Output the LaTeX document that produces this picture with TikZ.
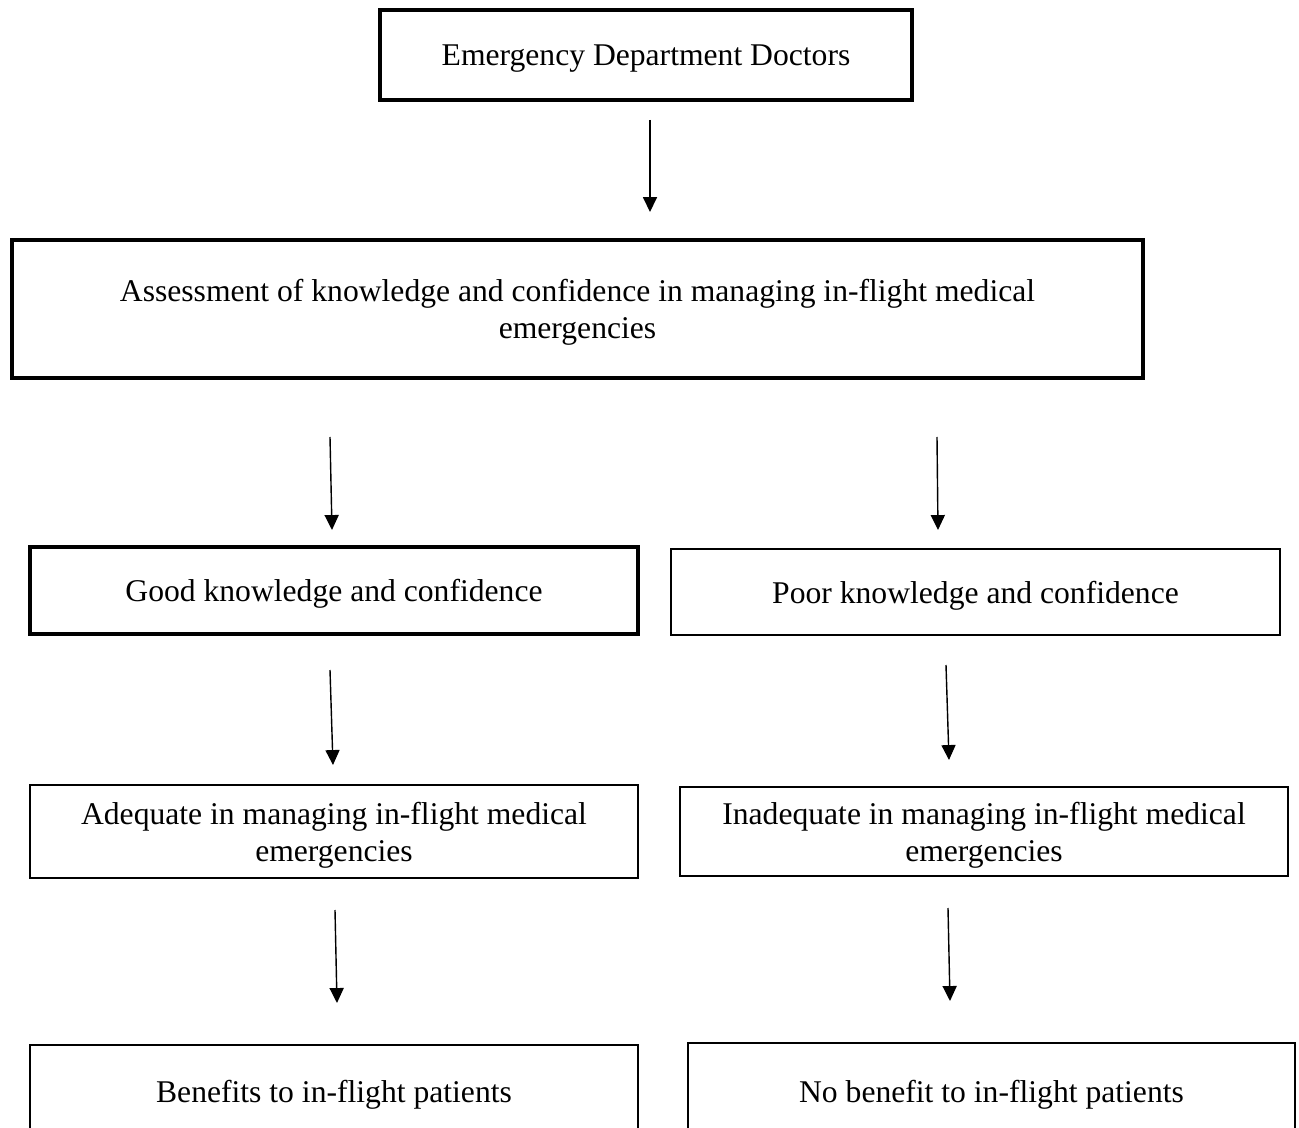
\documentclass[tikz,border=0pt]{standalone}
\usepackage{fontspec}
\setmainfont{Liberation Serif}
\usetikzlibrary{arrows.meta}
\begin{document}
\begin{tikzpicture}[x=0.02cm,y=-0.02cm,
  box/.style={draw,line width=1.1pt,inner sep=0pt,align=center,text depth=-4pt,
    font=\fontsize{18}{21}\selectfont},
  heavybox/.style={box,line width=2.3pt},
  arr/.style={line width=0.8pt,-{Triangle[length=8.5pt,width=8pt]}}]
\useasboundingbox (0,0) rectangle (1299,1128);

\node [heavybox,minimum width=10.64cm,minimum height=1.8cm] (doctors) at (646,55) {Emergency Department Doctors};
\node [heavybox,minimum width=22.62cm,minimum height=2.76cm] (assess) at (577.5,309)
  {Assessment of knowledge and confidence in managing in-flight medical\\emergencies};

\node [heavybox,minimum width=12.16cm,minimum height=1.74cm] (good) at (334,590.5) {Good knowledge and confidence};
\node [box,minimum width=12.18cm,minimum height=1.72cm] (poor) at (975.5,592) {Poor knowledge and confidence};

\node [box,minimum width=12.16cm,minimum height=1.86cm] (adequate) at (334,831.5)
  {Adequate in managing in-flight medical\\emergencies};
\node [box,minimum width=12.16cm,minimum height=1.78cm] (inadequate) at (984,831.5)
  {Inadequate in managing in-flight medical\\emergencies};

\node [box,minimum width=12.16cm,minimum height=1.84cm] (benefit) at (334,1091) {Benefits to in-flight patients};
\node [box,minimum width=12.14cm,minimum height=1.92cm] (nobenefit) at (991.5,1091) {No benefit to in-flight patients};

\coordinate (a1s) at (650,120);  \coordinate (a1e) at (650,212);
\coordinate (a2s) at (330,437);  \coordinate (a2e) at (332,530);
\coordinate (a3s) at (937,437);  \coordinate (a3e) at (938,530);
\coordinate (a4s) at (330,670);  \coordinate (a4e) at (333,765);
\coordinate (a5s) at (946,665);  \coordinate (a5e) at (949,760);
\coordinate (a6s) at (335,910);  \coordinate (a6e) at (337,1003);
\coordinate (a7s) at (948,908);  \coordinate (a7e) at (950,1001);

\foreach \a in {a1,a2,a3,a4,a5,a6,a7}
  \draw [arr] (\a s) -- (\a e);
\end{tikzpicture}
\end{document}
